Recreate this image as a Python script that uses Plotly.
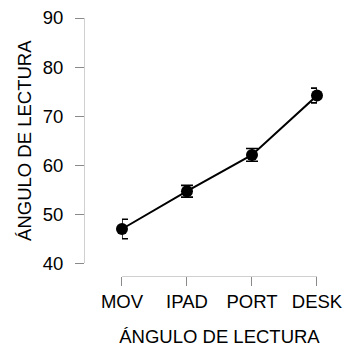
import plotly.graph_objects as go

categories = ["MOV", "IPAD", "PORT", "DESK"]
means = [47.0, 54.7, 62.1, 74.2]
errors = [2.0, 1.2, 1.3, 1.5]
y_ticks = [40, 50, 60, 70, 80, 90]
axis_title = "ÁNGULO DE LECTURA"

FONT = "Liberation Sans, Arial, sans-serif"
FS = 18.5

fig = go.Figure()
fig.add_trace(go.Scatter(
    x=categories, y=means,
    mode="lines+markers",
    line=dict(color="black", width=2),
    marker=dict(color="black", size=12),
    error_y=dict(type="data", array=errors, color="black", thickness=1.6, width=6),
    cliponaxis=False,
    showlegend=False,
))

fig.update_layout(
    template="none",
    width=346, height=347,
    margin=dict(l=84, r=29, t=18, b=71, autoexpand=False),
    paper_bgcolor="white", plot_bgcolor="white",
    font=dict(family=FONT, color="black", size=FS),
    xaxis=dict(
        type="category", categoryorder="array", categoryarray=categories,
        range=[0, 3], domain=[0.163, 1], anchor="free", position=0,
        automargin=False,
        showline=True, linecolor="#d0d0d0", linewidth=1,
        ticks="outside", ticklen=9, tickcolor="#8a8a8a", tickwidth=1,
        showgrid=False, zeroline=False,
        tickfont=dict(size=FS),
        title=dict(text=axis_title, font=dict(size=FS), standoff=20),
    ),
    yaxis=dict(
        range=[40, 90], domain=[0.049, 1], anchor="free", position=0,
        automargin=False,
        tickvals=y_ticks,
        showline=True, linecolor="#d0d0d0", linewidth=1,
        ticks="outside", ticklen=9, tickcolor="#8a8a8a", tickwidth=1,
        ticklabelstandoff=8,
        showgrid=False, zeroline=False,
        tickfont=dict(size=FS),
        title=dict(text=axis_title, font=dict(size=FS), standoff=5),
    ),
)

fig.write_html("out.html")
